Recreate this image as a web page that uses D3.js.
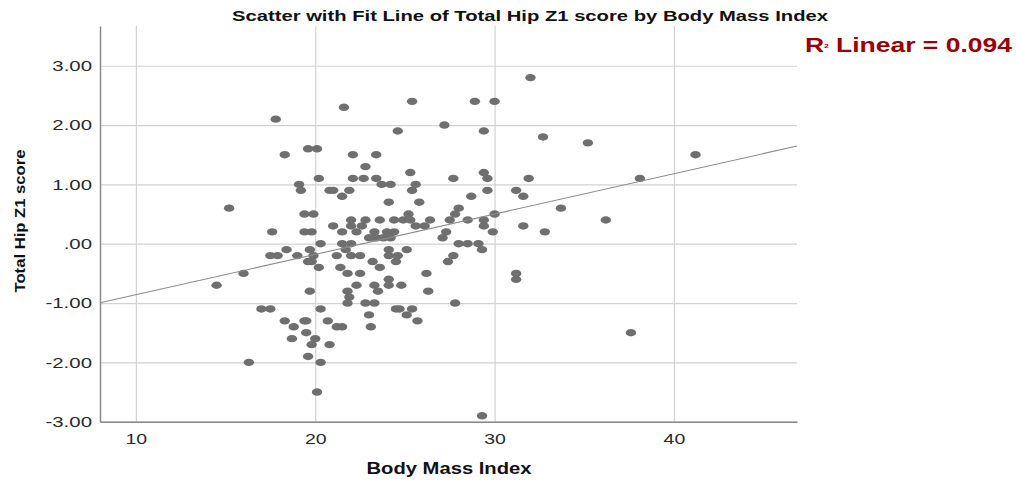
<!DOCTYPE html>
<html>
<head>
<meta charset="utf-8">
<script src="https://cdn.jsdelivr.net/npm/d3@7"></script>
<style>
  body { margin: 0; background: #fff; }
  svg { display: block; }
  text { font-family: "Liberation Sans", Arial, Helvetica, sans-serif; }
</style>
</head>
<body>
<svg id="chart" width="1017" height="483"></svg>
<script>
// Body Mass Index of each participant
const bmi = [
  32.0,
  25.4, 28.9, 30.0,
  21.6,
  17.8,
  27.2,
  24.6, 29.4,
  32.7,
  35.2,
  19.6, 20.1,
  18.3, 22.1, 23.4, 41.2,
  22.8,
  25.3, 29.4,
  20.2, 22.1, 22.7, 23.4, 27.7, 29.6, 31.9, 38.1,
  19.1, 23.7, 24.2, 25.6,
  19.2, 20.8, 21.0, 21.9, 25.4, 29.6, 31.2,
  21.5, 28.7, 31.6,
  24.1, 25.8,
  15.2, 28.0, 33.7,
  19.4, 19.9, 25.2, 27.8, 30.0,
  22.0, 22.8, 23.6, 24.4, 24.9, 25.3, 26.4, 27.5, 28.5, 29.4, 36.2,
  21.0, 22.0, 22.6, 25.6, 26.1, 29.4, 31.6,
  17.6, 19.4, 19.8, 21.5, 22.3, 23.3, 24.0, 24.4, 27.3, 29.9, 32.8,
  23.0, 23.4, 23.8, 24.2, 27.1,
  20.3, 21.5, 22.0, 28.0, 28.5, 29.1,
  18.4, 19.7, 21.7, 24.1, 25.1, 29.3,
  17.5, 17.9, 19.0, 19.9, 21.2, 22.0, 22.5, 24.1, 24.6, 27.7,
  19.6, 19.8, 23.2, 24.5, 27.4,
  20.2, 21.4, 23.6,
  16.0, 21.8, 22.5, 26.2, 31.2,
  24.1, 31.2,
  14.5, 22.3, 23.3, 24.1, 24.8,
  19.7, 21.8, 23.5, 26.3,
  21.9,
  21.8, 22.8, 23.3, 27.8,
  17.0, 17.5, 20.3, 24.5, 24.7, 25.4,
  23.0, 25.1,
  18.3, 19.4, 19.5, 20.7, 25.7,
  18.8, 21.2, 21.5, 23.1,
  19.5, 37.6,
  18.7, 20.0,
  19.8, 20.8,
  19.6,
  16.3, 20.3,
  20.1,
  29.3
];

// Total Hip Z1 score of each participant (same order as bmi)
const hipZ = [
  2.8,
  2.4, 2.4, 2.4,
  2.3,
  2.1,
  2.0,
  1.9, 1.9,
  1.8,
  1.7,
  1.6, 1.6,
  1.5, 1.5, 1.5, 1.5,
  1.3,
  1.2, 1.2,
  1.1, 1.1, 1.1, 1.1, 1.1, 1.1, 1.1, 1.1,
  1.0, 1.0, 1.0, 1.0,
  0.9, 0.9, 0.9, 0.9, 0.9, 0.9, 0.9,
  0.8, 0.8, 0.8,
  0.7, 0.7,
  0.6, 0.6, 0.6,
  0.5, 0.5, 0.5, 0.5, 0.5,
  0.4, 0.4, 0.4, 0.4, 0.4, 0.4, 0.4, 0.4, 0.4, 0.4, 0.4,
  0.3, 0.3, 0.3, 0.3, 0.3, 0.3, 0.3,
  0.2, 0.2, 0.2, 0.2, 0.2, 0.2, 0.2, 0.2, 0.2, 0.2, 0.2,
  0.1, 0.1, 0.1, 0.1, 0.1,
  0.0, 0.0, 0.0, 0.0, 0.0, 0.0,
  -0.1, -0.1, -0.1, -0.1, -0.1, -0.1,
  -0.2, -0.2, -0.2, -0.2, -0.2, -0.2, -0.2, -0.2, -0.2, -0.2,
  -0.3, -0.3, -0.3, -0.3, -0.3,
  -0.4, -0.4, -0.4,
  -0.5, -0.5, -0.5, -0.5, -0.5,
  -0.6, -0.6,
  -0.7, -0.7, -0.7, -0.7, -0.7,
  -0.8, -0.8, -0.8, -0.8,
  -0.9,
  -1.0, -1.0, -1.0, -1.0,
  -1.1, -1.1, -1.1, -1.1, -1.1, -1.1,
  -1.2, -1.2,
  -1.3, -1.3, -1.3, -1.3, -1.3,
  -1.4, -1.4, -1.4, -1.4,
  -1.5, -1.5,
  -1.6, -1.6,
  -1.7, -1.7,
  -1.9,
  -2.0, -2.0,
  -2.5,
  -2.9
];

// Axis ticks and labels
const xTicks = [10, 20, 30, 40];
const yTicks = [3, 2, 1, 0, -1, -2, -3];
const yTickLabels = ["3.00", "2.00", "1.00", ".00", "-1.00", "-2.00", "-3.00"];

// Linear fit reported for the model
const fitIntercept = -1.54;
const fitSlope = 0.068;
const rSquared = "0.094";

const titleText = "Scatter with Fit Line of Total Hip Z1 score by Body Mass Index";
const xTitle = "Body Mass Index";
const yTitle = "Total Hip Z1 score";

const svg = d3.select("#chart");
const plot = { left: 100, right: 797, top: 26, bottom: 421.7 };

const x = d3.scaleLinear().domain([8, 46.86]).range([plot.left, plot.right]);
const y = d3.scaleLinear().domain([-3, 3.67]).range([plot.bottom, plot.top]);

// widen glyphs horizontally to a chosen factor
function stretch(sel, k) {
  sel.each(function () {
    const w = this.getComputedTextLength();
    d3.select(this).attr("textLength", w * k).attr("lengthAdjust", "spacingAndGlyphs");
  });
}

// gridlines
const gridColor = "#d2d2d2";
svg.append("g")
  .attr("transform", `translate(0,${plot.bottom})`)
  .call(d3.axisBottom(x).tickValues(xTicks).tickSize(-(plot.bottom - plot.top)).tickFormat(""))
  .call(g => g.select(".domain").remove())
  .call(g => g.selectAll("line").attr("stroke", gridColor).attr("stroke-width", 1.2));

svg.append("g")
  .attr("transform", `translate(${plot.left},0)`)
  .call(d3.axisLeft(y).tickValues(yTicks).tickSize(-(plot.right - plot.left)).tickFormat(""))
  .call(g => g.select(".domain").remove())
  .call(g => g.selectAll("line").attr("stroke", gridColor).attr("stroke-width", 1.2));

// axis lines and labels
const xAxis = svg.append("g")
  .attr("transform", `translate(0,${plot.bottom})`)
  .call(d3.axisBottom(x).tickValues(xTicks).tickSize(0).tickPadding(0).tickFormat(d3.format("d")));
xAxis.select(".domain").attr("stroke", "#8a8a8a").attr("stroke-width", 1.5);
xAxis.selectAll("text")
  .attr("y", 17).attr("dy", "0.35em")
  .attr("font-size", 15).attr("fill", "#2a2a2a")
  .call(stretch, 1.3);

const yAxis = svg.append("g")
  .attr("transform", `translate(${plot.left},0)`)
  .call(d3.axisLeft(y).tickValues(yTicks).tickSize(0).tickPadding(8)
    .tickFormat((d, i) => yTickLabels[i]));
yAxis.select(".domain").attr("stroke", "#8a8a8a").attr("stroke-width", 1.5);
yAxis.selectAll("text")
  .attr("font-size", 15).attr("fill", "#2a2a2a")
  .call(stretch, 1.36);

// points
svg.append("g")
  .selectAll("ellipse")
  .data(bmi.map((b, i) => ({ b, z: hipZ[i] })))
  .join("ellipse")
  .attr("cx", d => x(d.b))
  .attr("cy", d => y(d.z))
  .attr("rx", 5.2)
  .attr("ry", 3.7)
  .attr("fill", "#6f6f6f");

// fit line across the full x domain
const [x0, x1] = x.domain();
svg.append("line")
  .attr("x1", x(x0)).attr("y1", y(fitIntercept + fitSlope * x0))
  .attr("x2", x(x1)).attr("y2", y(fitIntercept + fitSlope * x1))
  .attr("stroke", "#8c8c8c")
  .attr("stroke-width", 1.1);

// titles
svg.append("text")
  .attr("x", 530).attr("y", 21)
  .attr("text-anchor", "middle")
  .attr("font-size", 15).attr("font-weight", "bold").attr("fill", "#111")
  .attr("textLength", 596).attr("lengthAdjust", "spacingAndGlyphs")
  .text(titleText);

svg.append("text")
  .attr("x", 449).attr("y", 474)
  .attr("text-anchor", "middle")
  .attr("font-size", 16).attr("font-weight", "bold").attr("fill", "#111")
  .attr("textLength", 165).attr("lengthAdjust", "spacingAndGlyphs")
  .text(xTitle);

svg.append("text")
  .attr("transform", "translate(25,221) rotate(-90)")
  .attr("text-anchor", "middle")
  .attr("font-size", 14).attr("font-weight", "bold").attr("fill", "#111")
  .attr("textLength", 143).attr("lengthAdjust", "spacingAndGlyphs")
  .text(yTitle);

// R-squared annotation
const r2 = svg.append("text")
  .attr("x", 805).attr("y", 52)
  .attr("font-size", 20).attr("font-weight", "bold").attr("fill", "#9a0000")
  .attr("textLength", 207).attr("lengthAdjust", "spacingAndGlyphs");
r2.append("tspan").text("R");
r2.append("tspan").attr("font-size", 6).attr("dy", -4).text("2");
r2.append("tspan").attr("dy", 4).text(" Linear = " + rSquared);
</script>
</body>
</html>
